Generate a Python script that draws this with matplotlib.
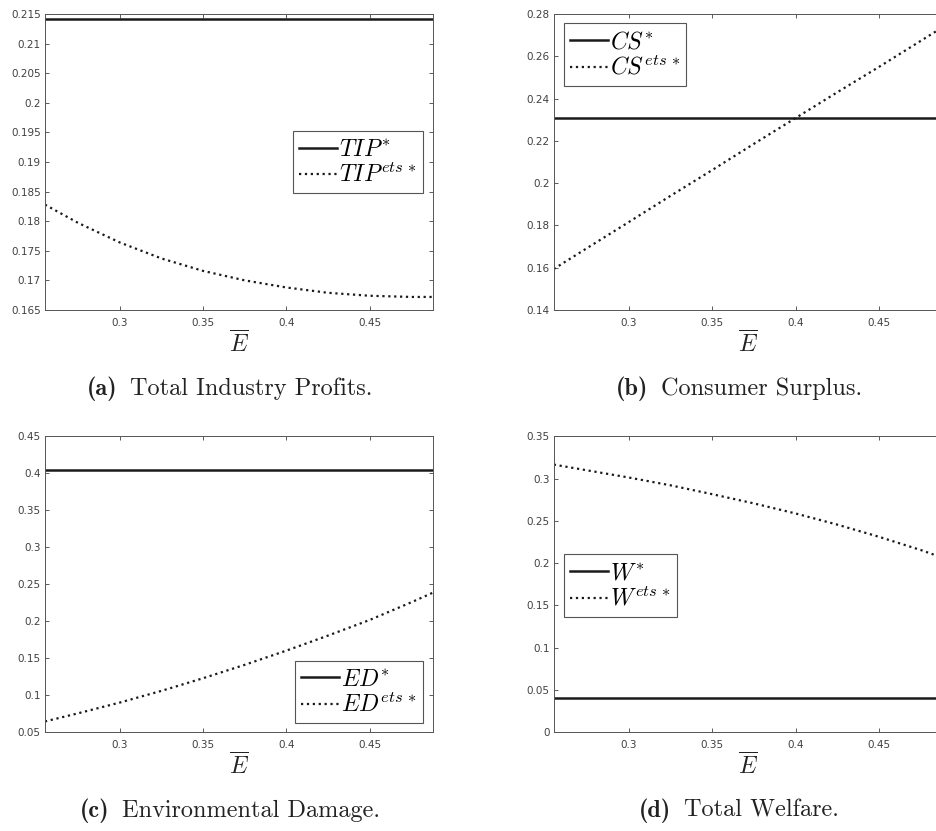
import matplotlib
matplotlib.use('Agg')
import matplotlib.pyplot as plt
from matplotlib.ticker import FormatStrFormatter
from matplotlib.offsetbox import TextArea, HPacker, AnchoredOffsetbox

plt.rcParams['mathtext.fontset'] = 'cm'
plt.rcParams['font.family'] = 'DejaVu Sans'

# emission cap values (x axis)
E_bar = [0.255, 0.275, 0.3, 0.325, 0.35, 0.375, 0.4, 0.425, 0.45, 0.475, 0.488]

TIP_star = 0.2141
TIP_ets = [0.1828, 0.1797, 0.1764, 0.1737, 0.1716, 0.1700, 0.1688, 0.1679, 0.1674, 0.1672, 0.1672]

CS_star = 0.2307
CS_ets = [0.1594, 0.1693, 0.1816, 0.1940, 0.2062, 0.2186, 0.2308, 0.2430, 0.2550, 0.2673, 0.2737]

ED_star = 0.4041
ED_ets = [0.0644, 0.0755, 0.0900, 0.1058, 0.1229, 0.1410, 0.1602, 0.1805, 0.2016, 0.2255, 0.2385]

W_star = 0.0402
W_ets = [0.3165, 0.3097, 0.3012, 0.2920, 0.2815, 0.2706, 0.2587, 0.2455, 0.2311, 0.2155, 0.2065]

xticks = [0.3, 0.35, 0.4, 0.45]

panels = [
    ('TIP', TIP_star, TIP_ets, (0.165, 0.215), 0.005, 'upper right', (0.974, 0.605),
     '(a)', 'Total Industry Profits.'),
    ('CS', CS_star, CS_ets, (0.14, 0.28), 0.02, 'upper left', (0.026, 0.969),
     '(b)', 'Consumer Surplus.'),
    ('ED', ED_star, ED_ets, (0.05, 0.45), 0.05, 'lower right', (0.974, 0.03),
     '(c)', 'Environmental Damage.'),
    ('W', W_star, W_ets, (0.0, 0.35), 0.05, 'upper left', (0.026, 0.601),
     '(d)', 'Total Welfare.'),
]

positions = [
    [0.048, 0.627, 0.414, 0.356],
    [0.591, 0.627, 0.4146, 0.356],
    [0.048, 0.119, 0.414, 0.356],
    [0.591, 0.119, 0.4146, 0.356],
]

fig = plt.figure(figsize=(9.37, 8.31), dpi=100)
gray = '#404040'

for pos, (name, star, ets, ylim, ystep, loc, anchor, tag, caption) in zip(positions, panels):
    ax = fig.add_axes(pos)
    ax.plot([E_bar[0], E_bar[-1]], [star, star], color='#1a1a1a', lw=1.8, ls='-',
            label=r'$%s^{*}$' % name)
    ax.plot(E_bar, ets, color='#1a1a1a', lw=1.6, ls=':',
            label=r'$%s^{ets\,*}$' % name)
    ax.set_xlim(0.255, 0.488)
    ax.set_ylim(*ylim)
    n = int(round((ylim[1] - ylim[0]) / ystep))
    ax.set_yticks([ylim[0] + i * ystep for i in range(n + 1)])
    ax.set_xticks(xticks)
    ax.yaxis.set_major_formatter(FormatStrFormatter('%g'))
    ax.xaxis.set_major_formatter(FormatStrFormatter('%g'))
    ax.tick_params(direction='in', length=3, width=0.6, colors=gray, labelsize=7.5,
                   top=True, right=True, pad=6)
    ax.tick_params(axis='y', pad=3)
    for s in ax.spines.values():
        s.set_color('#555555')
        s.set_linewidth(0.7)
    ax.set_xlabel(r'$\overline{E}$', fontsize=17, labelpad=2, color='#222222')
    leg = ax.legend(loc=loc, bbox_to_anchor=anchor, fontsize=17, handlelength=1.6,
                    handletextpad=0.1, borderpad=0.25, labelspacing=0.1,
                    fancybox=False, framealpha=1, borderaxespad=0)
    leg.get_frame().set_edgecolor('#555555')
    leg.get_frame().set_linewidth(0.8)

    # caption under each panel: bold tag + roman text
    box = HPacker(children=[
        TextArea(tag, textprops=dict(family='cmb10', size=17.5, color='#222222')),
        TextArea(caption, textprops=dict(family='cmr10', size=17.5, color='#222222')),
    ], sep=9, align='baseline', pad=0)
    ab = AnchoredOffsetbox(loc='center', child=box, frameon=False, pad=0,
                           bbox_to_anchor=(0.477, -0.265), bbox_transform=ax.transAxes,
                           borderpad=0)
    ax.add_artist(ab)

fig.savefig('out.png', dpi=100)
